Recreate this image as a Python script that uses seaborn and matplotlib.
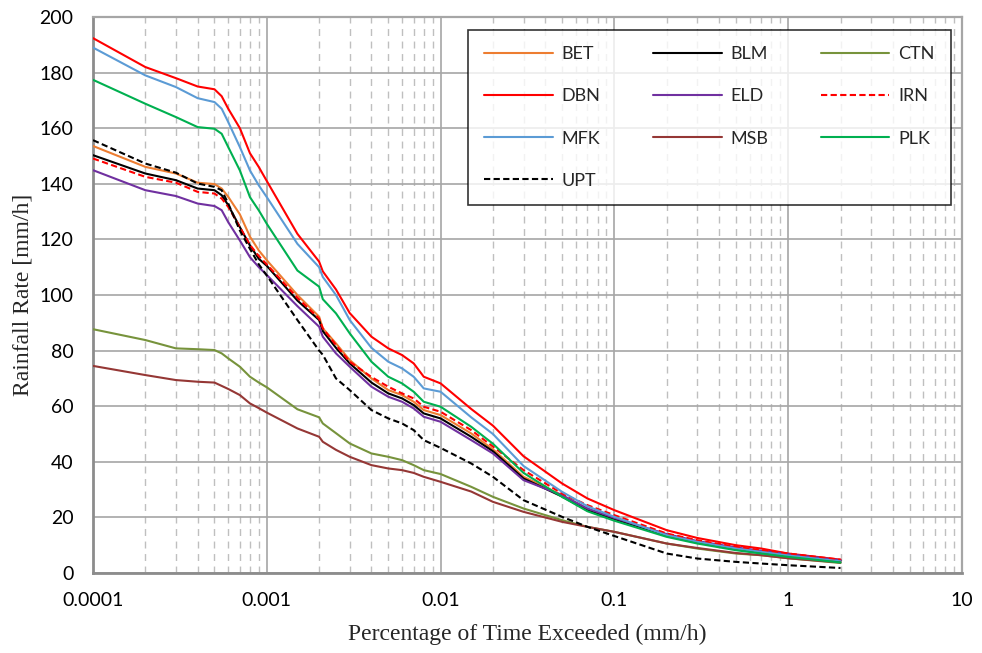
import numpy as np
import pandas as pd
import matplotlib
matplotlib.use("Agg")
import matplotlib.pyplot as plt
import seaborn as sns
from matplotlib.ticker import FixedLocator, LogLocator, NullFormatter

# ---- data -------------------------------------------------------------
x_pct = [1e-4, 2e-4, 3e-4, 4e-4, 5e-4, 5.5e-4, 6e-4, 7e-4, 8e-4, 9e-4,
         1e-3, 1.5e-3, 2e-3, 2.1e-3, 2.5e-3, 3e-3, 4e-3, 5e-3, 6e-3, 7e-3,
         8e-3, 1e-2, 1.5e-2, 2e-2, 3e-2, 5e-2, 7e-2, 0.1, 0.2, 0.3, 0.5,
         0.7, 1, 2]

BET = [153.6, 146.1, 143.7, 140.4, 139.9, 138.3, 135.3, 129, 121, 116,
       112.5, 100, 92.2, 88, 82.6, 76.6, 70, 65.8, 64, 61.6,
       58.6, 56.8, 50.2, 44.5, 34.6, 28, 23, 19.5, 13.5, 11, 8.6,
       7.4, 6.2, 4.2]
BLM = [150.3, 143.7, 141.3, 138.3, 137.7, 135.9, 132.3, 124.4, 117.8, 113,
       110.5, 98, 91, 87, 81, 75.4, 68.5, 64.6, 62.8, 60.4,
       57.4, 55.6, 49, 43.8, 34, 27.5, 22.5, 19.4, 13.6, 11.2, 8.8,
       7.6, 6.4, 4.4]
CTN = [87.7, 83.8, 80.8, 80.5, 80.2, 79, 77.2, 74.2, 70.6, 68.5,
       66.8, 58.9, 56, 53.8, 50.3, 46.6, 43, 41.8, 40.6, 38.8,
       37, 35.6, 31, 27.4, 23.2, 19, 16.6, 14.8, 10.6, 8.8, 7,
       6.4, 5.3, 3.6]
DBN = [192.4, 182, 178, 175, 174, 171.5, 167, 160, 151, 146,
       141, 122, 112, 108.5, 102, 93.5, 85, 80.8, 78.4, 75.4,
       70.6, 68.2, 59, 53, 42, 32.2, 26.8, 22.6, 15.4, 12.6, 10,
       8.8, 7, 4.8]
ELD = [144.9, 137.7, 135.6, 132.9, 132, 130.5, 126.2, 119.6, 113.6, 110,
       107.2, 96, 88.6, 85, 79, 74.2, 67, 63.4, 61.6, 59.2,
       56.2, 54.4, 47.8, 43, 33.4, 28, 23.2, 19.8, 14, 11.5, 9.2,
       8, 6.8, 4.6]
IRN = [149.1, 142.5, 140.4, 137.1, 136.5, 134.7, 131.7, 124.4, 118, 114,
       111, 99, 91.5, 88, 82, 76, 70.5, 67, 64.6, 62.8,
       59.8, 58, 51.4, 45.5, 37, 28.6, 24.4, 20.8, 14.2, 11.8, 9.4,
       8.2, 7, 4.8]
MFK = [189, 179, 174.8, 170.8, 169.4, 167, 162.2, 153.2, 144.8, 139.4,
       135.2, 118.4, 110, 106.5, 100, 91, 81, 76, 73.6, 70.6,
       66.4, 65.2, 56, 50, 38.5, 29.2, 24, 20.2, 13.6, 11.2, 8.8,
       7.6, 6.3, 4.2]
MSB = [74.5, 71.2, 69.4, 68.8, 68.5, 67.3, 66.2, 64, 61, 59.3,
       57.7, 52, 49, 47.2, 44.3, 41.8, 38.8, 37.6, 37, 36,
       34.6, 32.8, 29.3, 25.6, 22, 18.4, 16.6, 14.8, 10.6, 9, 7.2,
       6.4, 5.3, 3.8]
PLK = [177.4, 168.8, 164, 160.4, 159.8, 158, 153.2, 144.8, 135.2, 130.4,
       125.6, 108.8, 103, 98.5, 93.4, 86.2, 76, 70.6, 68.2, 65.2,
       61.6, 59.8, 52.6, 46.5, 36, 27.4, 22.2, 18.8, 13, 10.6, 8.2,
       7, 5.8, 3.8]
UPT = [155.7, 147.3, 144, 140.1, 138.9, 137.7, 132.9, 123.2, 116.6, 111,
       107, 91, 80, 78.5, 70, 65.8, 58.6, 55.6, 53.8, 51.4,
       47.8, 45, 39.4, 34.6, 26.2, 20.2, 16.6, 13.3, 7, 5.2, 4,
       3.4, 2.8, 1.8]

series_names = ["BET", "BLM", "CTN", "DBN", "ELD", "IRN", "MFK", "MSB", "PLK", "UPT"]
series_vals = [BET, BLM, CTN, DBN, ELD, IRN, MFK, MSB, PLK, UPT]
x_tick_vals = [0.0001, 0.001, 0.01, 0.1, 1, 10]
x_tick_labels = ["0.0001", "0.001", "0.01", "0.1", "1", "10"]
y_tick_vals = list(range(0, 201, 20))

colors = {"BET": "#ED7D31", "BLM": "#000000", "CTN": "#77933C", "DBN": "#FF0000",
          "ELD": "#7030A0", "IRN": "#FF0000", "MFK": "#5B9BD5", "MSB": "#953735",
          "PLK": "#00B050", "UPT": "#000000"}
dashed = {"IRN", "UPT"}

df = pd.DataFrame({
    "x": np.tile(x_pct, len(series_names)),
    "y": np.concatenate(series_vals),
    "site": np.repeat(series_names, len(x_pct)),
})

# ---- figure -----------------------------------------------------------
sns.set_style("white")
plt.rcParams["font.family"] = ["Lato", "DejaVu Sans"]

fig = plt.figure(figsize=(9.82, 6.53), dpi=100)
ax = fig.add_axes([93/982, 1-573/653, (962-93)/982, (573-17)/653])

for name in series_names:
    sub = df[df["site"] == name]
    sns.lineplot(data=sub, x="x", y="y", ax=ax, color=colors[name],
                 linewidth=1.5, linestyle=(0, (3, 1.6)) if name in dashed else "-",
                 label=name, zorder=3, estimator=None, sort=False)

ax.set_xscale("log")
ax.set_xlim(1e-4, 10)
ax.set_ylim(0, 200)
ax.xaxis.set_major_locator(FixedLocator(x_tick_vals))
ax.set_xticklabels(x_tick_labels)
ax.xaxis.set_minor_locator(LogLocator(base=10, subs=np.arange(2, 10)))
ax.xaxis.set_minor_formatter(NullFormatter())
ax.set_yticks(y_tick_vals)

ax.grid(which="major", axis="both", color="#a6a6a6", linewidth=1.2, linestyle="-", zorder=0)
ax.grid(which="minor", axis="x", color="#bfbfbf", linewidth=1.0, linestyle=(0, (5, 4)), zorder=0)
ax.set_axisbelow(True)

for s in ax.spines.values():
    s.set_color("#a6a6a6")
    s.set_linewidth(1.6)
ax.spines["left"].set_color("#8c8c8c")
ax.spines["bottom"].set_color("#8c8c8c")
ax.spines["left"].set_linewidth(2)
ax.spines["bottom"].set_linewidth(2)

ax.tick_params(axis="both", which="both", length=0, labelsize=14, colors="#000000")
ax.tick_params(axis="y", pad=14)
ax.tick_params(axis="x", pad=14)

ax.set_xlabel("Percentage of Time Exceeded (mm/h)", fontsize=17,
              family=["Liberation Serif"], labelpad=10)
ax.set_ylabel("Rainfall Rate [mm/h]", fontsize=17,
              family=["Liberation Serif"], labelpad=4)

# legend filled row by row, as in the reference
handles, labels = ax.get_legend_handles_labels()
hmap = dict(zip(labels, handles))
leg_order = ["BET", "DBN", "MFK", "UPT", "BLM", "ELD", "MSB", "CTN", "IRN", "PLK"]
leg = ax.legend([hmap[k] for k in leg_order], leg_order, ncol=3, loc="upper left",
                bbox_to_anchor=(0.4315, 0.9766, 0.5558, 0.0), mode="expand",
                frameon=True, fancybox=False, edgecolor="#000000",
                fontsize=13, handlelength=3.8, handletextpad=0.5,
                labelspacing=1.45, borderpad=0.9, borderaxespad=0.0)
leg.get_frame().set_linewidth(1.2)
leg.set_zorder(5)

fig.savefig("out.png", dpi=100, facecolor="white")
